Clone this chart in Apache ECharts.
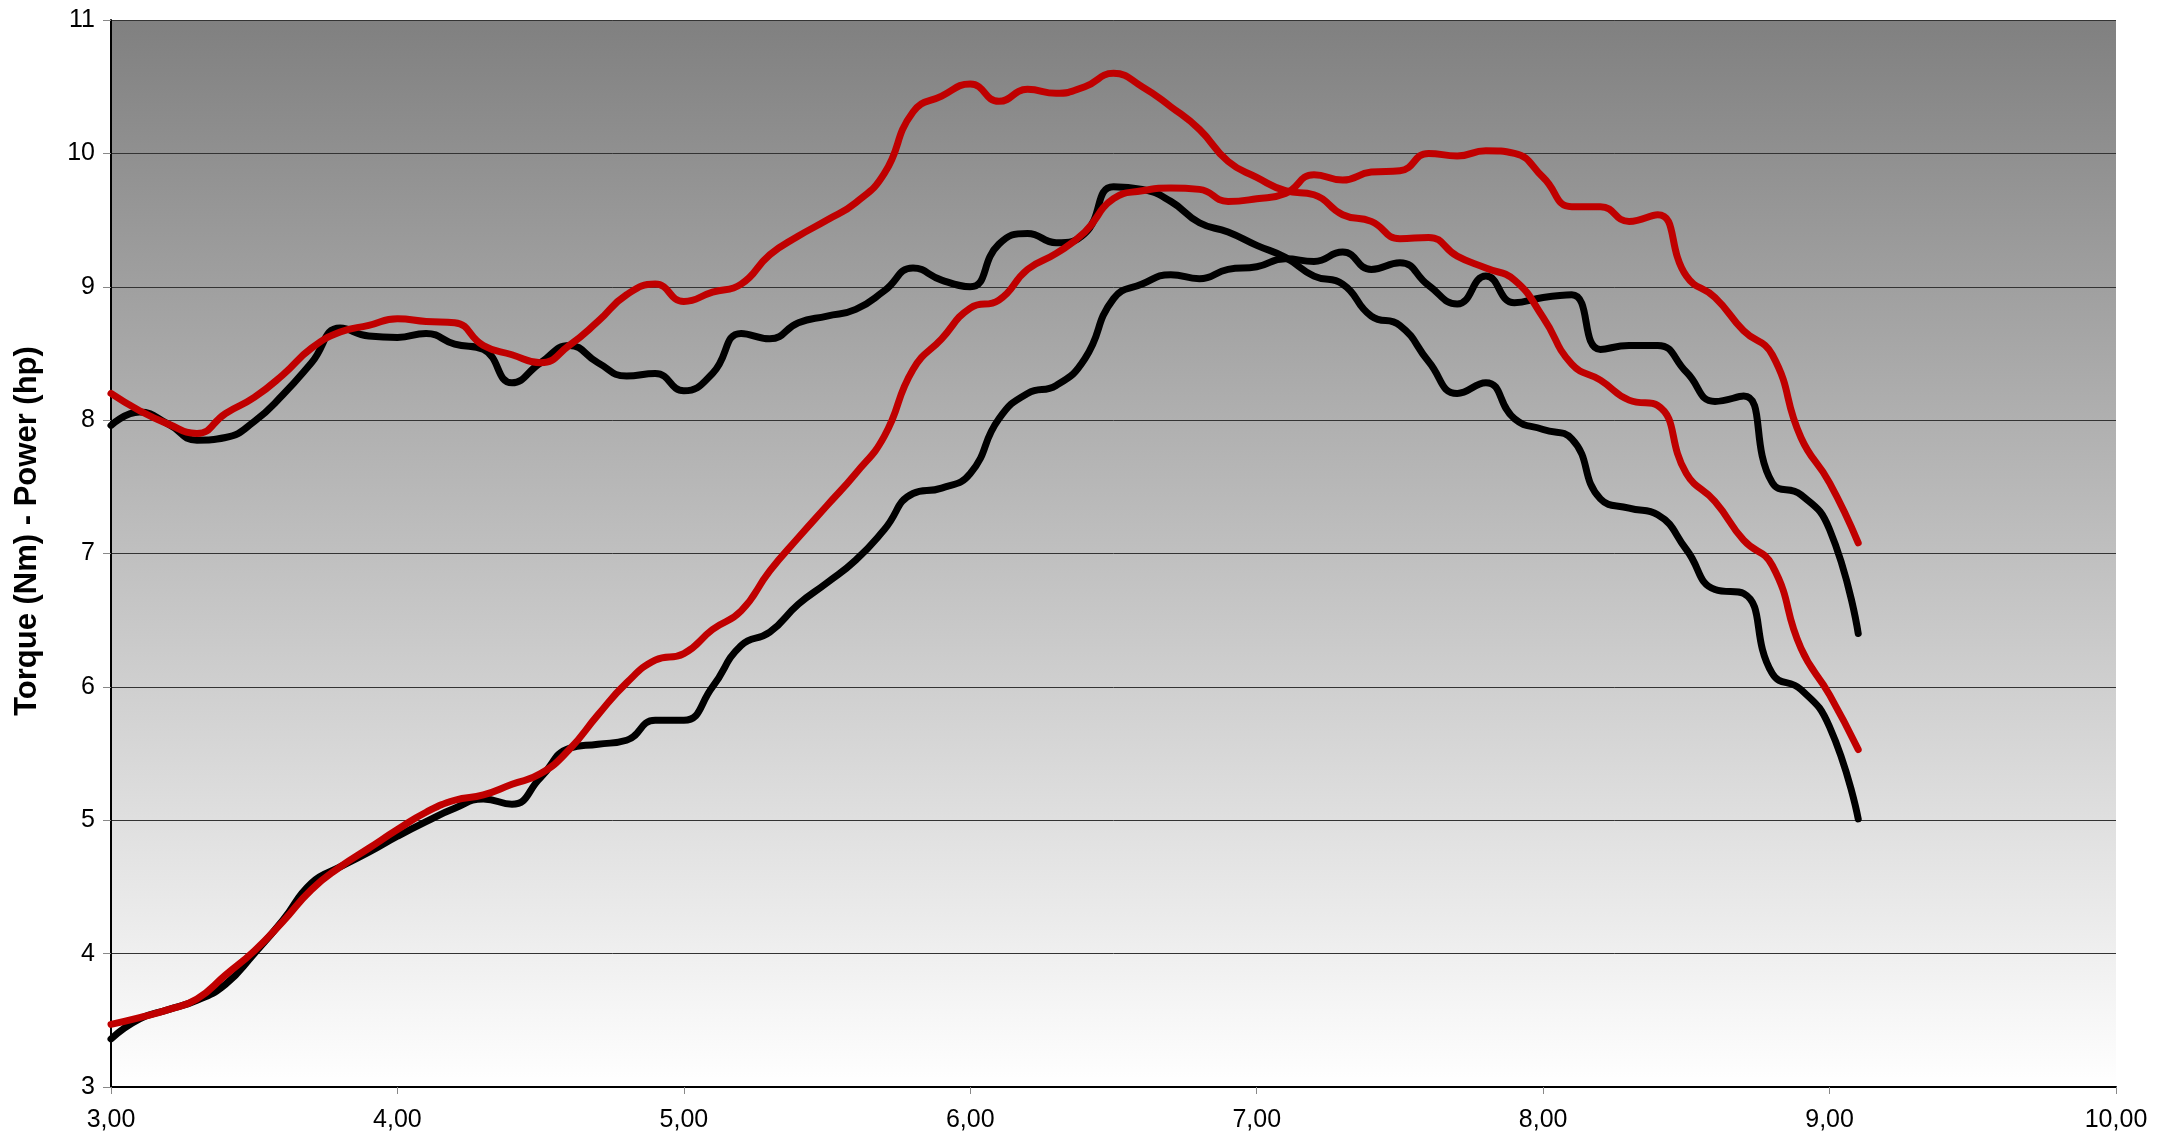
<!DOCTYPE html>
<html>
<head>
<meta charset="utf-8">
<script src="https://cdn.jsdelivr.net/npm/echarts@6/dist/echarts.min.js"></script>
<style>
html,body{margin:0;padding:0;background:#fff;}
#chart{width:2157px;height:1143px;}
</style>
</head>
<body>
<div id="chart"></div>
<script>
// rpm (x1000)
const rpm = [3.0,3.1,3.2,3.3,3.4,3.5,3.6,3.7,3.8,3.9,4.0,4.1,4.2,4.3,4.4,4.5,4.6,4.7,4.8,4.9,5.0,5.1,5.2,5.3,5.4,5.5,5.6,5.7,5.8,5.9,6.0,6.1,6.2,6.3,6.4,6.5,6.6,6.7,6.8,6.9,7.0,7.1,7.2,7.3,7.4,7.5,7.6,7.7,7.8,7.9,8.0,8.1,8.2,8.3,8.4,8.5,8.6,8.7,8.8,8.9,9.0,9.1];

const blackTorque = [7.96,8.06,7.97,7.85,7.87,7.99,8.19,8.43,8.69,8.63,8.62,8.65,8.57,8.53,8.28,8.43,8.56,8.43,8.33,8.35,8.22,8.35,8.65,8.61,8.73,8.78,8.83,8.97,9.14,9.05,9.00,9.32,9.40,9.33,9.40,9.75,9.73,9.64,9.48,9.41,9.31,9.22,9.08,9.02,8.78,8.71,8.44,8.20,8.28,8.01,7.93,7.86,7.41,7.34,7.29,7.03,6.73,6.70,6.10,5.98,5.70,5.01];

const blackPower = [3.36,3.51,3.58,3.65,3.77,4.00,4.25,4.53,4.65,4.76,4.88,4.99,5.09,5.16,5.12,5.32,5.54,5.57,5.60,5.75,5.75,6.00,6.31,6.41,6.62,6.78,6.95,7.18,7.45,7.49,7.60,8.01,8.20,8.26,8.46,8.91,9.02,9.09,9.06,9.13,9.15,9.21,9.19,9.26,9.13,9.18,9.01,8.87,9.08,8.88,8.92,8.94,8.53,8.56,8.56,8.36,8.14,8.18,7.53,7.44,7.18,6.40];

const redTorque = [8.20,8.07,7.97,7.90,8.05,8.17,8.34,8.54,8.66,8.71,8.76,8.74,8.73,8.56,8.49,8.43,8.56,8.74,8.94,9.02,8.89,8.96,9.02,9.24,9.38,9.50,9.63,9.85,10.31,10.43,10.52,10.39,10.48,10.45,10.50,10.60,10.50,10.35,10.18,9.94,9.82,9.72,9.69,9.54,9.49,9.36,9.37,9.23,9.14,9.05,8.77,8.42,8.30,8.15,8.11,7.60,7.39,7.10,6.91,6.29,5.94,5.53];

const redPower = [3.47,3.52,3.58,3.66,3.84,4.02,4.24,4.48,4.65,4.79,4.93,5.06,5.15,5.19,5.27,5.35,5.53,5.79,6.03,6.20,6.25,6.43,6.57,6.87,7.12,7.36,7.60,7.88,8.38,8.61,8.84,8.90,9.13,9.25,9.41,9.66,9.72,9.74,9.73,9.64,9.66,9.70,9.84,9.80,9.86,9.87,10.00,9.98,10.02,10.00,9.82,9.60,9.60,9.49,9.54,9.08,8.92,8.67,8.49,7.87,7.53,7.08];

const yAxisTitle = 'Torque (Nm) - Power (hp)';

function pairs(ys){ return rpm.map((x,i)=>[x, ys[i]]); }

const FONT = '"Liberation Sans", Arial, sans-serif';
const chart = echarts.init(document.getElementById('chart'), null, {renderer:'canvas'});

function lineSeries(name, ys, color){
  return {
    name: name, type:'line', data: pairs(ys), smooth: 0.5, symbol:'none',
    lineStyle:{color: color, width: 7, cap:'round', join:'round'},
    animation:false, z: 3
  };
}

chart.setOption({
  backgroundColor:'#ffffff',
  animation:false,
  grid:{
    left:111, right:41, top:20, bottom:56, show:true,
    borderWidth:0,
    backgroundColor:{type:'linear', x:0, y:0, x2:0, y2:1,
      colorStops:[{offset:0,color:'#808080'},{offset:1,color:'#ffffff'}]}
  },
  xAxis:{
    type:'value', min:3, max:10, interval:1,
    axisLine:{show:true, onZero:false, lineStyle:{color:'#000', width:2}},
    axisTick:{show:true, length:7, lineStyle:{color:'#888', width:1}},
    splitLine:{show:false},
    axisLabel:{margin:21, color:'#000', fontSize:25, fontFamily:FONT,
      formatter: v => v.toFixed(2).replace('.', ',')}
  },
  yAxis:{
    type:'value', min:3, max:11, interval:1,
    axisLine:{show:true, lineStyle:{color:'#000', width:2}},
    axisTick:{show:true, length:8, lineStyle:{color:'#888', width:1}},
    splitLine:{show:true, lineStyle:{color:'#333333', width:1}},
    axisLabel:{margin:16, color:'#000', fontSize:25, fontFamily:FONT}
  },
  graphic:[{
    type:'text', x:27, y:531, rotation:Math.PI/2,
    style:{text:yAxisTitle, fill:'#000', font:'bold 31px ' + FONT,
      textAlign:'center', textVerticalAlign:'middle'}
  }],
  series:[
    lineSeries('Torque A', blackTorque, '#000000'),
    lineSeries('Power A', blackPower, '#000000'),
    lineSeries('Torque B', redTorque, '#c00000'),
    lineSeries('Power B', redPower, '#c00000')
  ]
});
</script>
</body>
</html>
